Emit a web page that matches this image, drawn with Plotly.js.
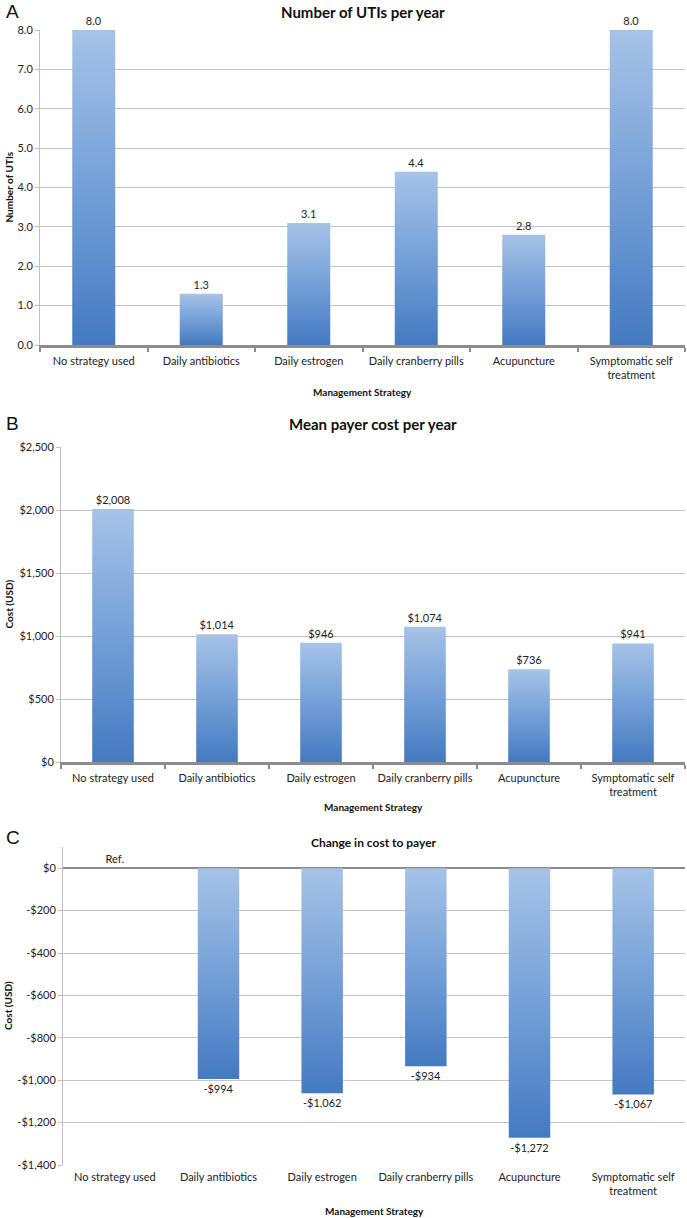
<!DOCTYPE html>
<html>
<head>
<meta charset="utf-8">
<script src="https://cdn.plot.ly/plotly-3.0.1.min.js"></script>
<style>
  html, body { margin: 0; padding: 0; background: #fff; }
  #chart { width: 687px; height: 1218px; }
</style>
</head>
<body>
<div id="chart"></div>
<script>
var strategies = ['No strategy used', 'Daily antibiotics', 'Daily estrogen',
  'Daily cranberry pills', 'Acupuncture', 'Symptomatic self<br>treatment'];

var utisPerYear = [8.0, 1.3, 3.1, 4.4, 2.8, 8.0];
var payerCost = [2008, 1014, 946, 1074, 736, 941];
var costChange = [0, -994, -1062, -934, -1272, -1067];
var refLabel = 'Ref.';

var costChangeTicks = [0, -200, -400, -600, -800, -1000, -1200, -1400];
var costChangeTickText = ['$0', '-$200', '-$400', '-$600', '-$800', '-$1,000', '-$1,200', '-$1,400'];

function usd(v) {
  var s = '$' + Math.abs(v).toLocaleString('en-US');
  return v < 0 ? '-' + s : s;
}

var H = 1218, W = 687;
function py(p) { return 1 - p / H; }
function px(p) { return p / W; }

var font = 'Lato, "Open Sans", sans-serif';
var barColor = 'rgb(110,155,212)';
var txtFont = {family: font, size: 11, color: '#222'};

var traceA = {
  x: strategies, y: utisPerYear, type: 'bar', xaxis: 'x', yaxis: 'y',
  text: utisPerYear.map(function (v) { return v.toFixed(1); }),
  textposition: 'outside', cliponaxis: false, textfont: txtFont,
  marker: {color: barColor}, hoverinfo: 'none'
};
var traceB = {
  x: strategies, y: payerCost, type: 'bar', xaxis: 'x2', yaxis: 'y2',
  text: payerCost.map(usd),
  textposition: 'outside', cliponaxis: false, textfont: txtFont,
  marker: {color: barColor}, hoverinfo: 'none'
};
var traceC = {
  x: strategies, y: costChange, type: 'bar', xaxis: 'x3', yaxis: 'y3',
  text: costChange.map(function (v) { return v === 0 ? refLabel : usd(v); }),
  textposition: 'outside', cliponaxis: false, textfont: txtFont,
  marker: {color: barColor}, hoverinfo: 'none'
};

var catAxis = {
  type: 'category', showgrid: false, zeroline: false, tickangle: 0,
  showline: true, linecolor: '#8c8c8c', linewidth: 2.5,
  ticks: 'outside', tickson: 'boundaries', ticklen: 4, tickwidth: 2, tickcolor: '#8c8c8c',
  ticklabelstandoff: 4,
  tickfont: {family: font, size: 11, color: '#222'}, fixedrange: true
};
var valAxis = {
  showline: true, linecolor: '#bfbfbf', linewidth: 1,
  ticks: 'outside', ticklen: 4, tickcolor: '#bfbfbf',
  gridcolor: '#c4c4c4', gridwidth: 1, zeroline: false,
  tickfont: {family: font, size: 11, color: '#222'}, fixedrange: true
};
function ext(base, more) {
  var o = {};
  for (var k in base) o[k] = base[k];
  for (var k2 in more) o[k2] = more[k2];
  return o;
}

var layout = {
  width: W, height: H,
  margin: {l: 0, r: 0, t: 0, b: 0},
  paper_bgcolor: '#fff', plot_bgcolor: 'rgba(0,0,0,0)',
  showlegend: false, bargap: 0.6,
  font: {family: font, color: '#222'},
  xaxis: ext(catAxis, {domain: [px(40), px(685)], anchor: 'y'}),
  yaxis: ext(valAxis, {domain: [py(345), py(30)], anchor: 'x', range: [0, 8], dtick: 1, tickformat: '.1f'}),
  xaxis2: ext(catAxis, {domain: [px(61), px(685)], anchor: 'y2'}),
  yaxis2: ext(valAxis, {domain: [py(762), py(447)], anchor: 'x2', range: [0, 2500], dtick: 500, tickprefix: '$', tickformat: ',d'}),
  xaxis3: ext(catAxis, {domain: [px(63), px(685)], anchor: 'y3', showline: false, ticks: ''}),
  yaxis3: ext(valAxis, {domain: [py(1165), py(847)], anchor: 'x3', range: [-1400, 100],
    tickmode: 'array', tickvals: costChangeTicks, ticktext: costChangeTickText,
    zeroline: true, zerolinecolor: '#8c8c8c', zerolinewidth: 2.5}),
  annotations: [
    {text: 'A', xref: 'paper', yref: 'paper', x: px(4), y: py(12), xanchor: 'left', yanchor: 'middle', showarrow: false, font: {family: 'Liberation Sans', size: 19, color: '#111'}},
    {text: 'B', xref: 'paper', yref: 'paper', x: px(4), y: py(423), xanchor: 'left', yanchor: 'middle', showarrow: false, font: {family: 'Liberation Sans', size: 19, color: '#111'}},
    {text: 'C', xref: 'paper', yref: 'paper', x: px(4), y: py(837), xanchor: 'left', yanchor: 'middle', showarrow: false, font: {family: 'Liberation Sans', size: 19, color: '#111'}},

    {text: '<b>Number of UTIs per year</b>', xref: 'x domain', yref: 'paper', x: 0.5, y: py(12), yanchor: 'middle', showarrow: false, font: {family: font, size: 15, color: '#111'}},
    {text: '<b>Mean payer cost per year</b>', xref: 'x2 domain', yref: 'paper', x: 0.5, y: py(424), yanchor: 'middle', showarrow: false, font: {family: font, size: 15, color: '#111'}},
    {text: '<b>Change in cost to payer</b>', xref: 'x3 domain', yref: 'paper', x: 0.5, y: py(842), yanchor: 'middle', showarrow: false, font: {family: font, size: 12, color: '#111'}},

    {text: '<b>Number of UTIs</b>', xref: 'paper', yref: 'y domain', x: px(8), y: 0.5, xanchor: 'center', yanchor: 'middle', textangle: -90, showarrow: false, font: {family: font, size: 10, color: '#111'}},
    {text: '<b>Cost (USD)</b>', xref: 'paper', yref: 'y2 domain', x: px(8), y: 0.5, xanchor: 'center', yanchor: 'middle', textangle: -90, showarrow: false, font: {family: font, size: 10, color: '#111'}},
    {text: '<b>Cost (USD)</b>', xref: 'paper', yref: 'y3 domain', x: px(8), y: 0.5, xanchor: 'center', yanchor: 'middle', textangle: -90, showarrow: false, font: {family: font, size: 10, color: '#111'}},

    {text: '<b>Management Strategy</b>', xref: 'x domain', yref: 'paper', x: 0.5, y: py(392), yanchor: 'middle', showarrow: false, font: {family: font, size: 10, color: '#111'}},
    {text: '<b>Management Strategy</b>', xref: 'x2 domain', yref: 'paper', x: 0.5, y: py(807), yanchor: 'middle', showarrow: false, font: {family: font, size: 10, color: '#111'}},
    {text: '<b>Management Strategy</b>', xref: 'x3 domain', yref: 'paper', x: 0.5, y: py(1211), yanchor: 'middle', showarrow: false, font: {family: font, size: 10, color: '#111'}}
  ]
};

// light-to-dark vertical gradient on every bar, like the original
function addGradient(gd) {
  var ns = 'http://www.w3.org/2000/svg';
  var svg = gd.querySelector('svg.main-svg');
  var defs = svg.querySelector('defs') || svg.insertBefore(document.createElementNS(ns, 'defs'), svg.firstChild);
  var grad = document.createElementNS(ns, 'linearGradient');
  grad.setAttribute('id', 'barGrad');
  grad.setAttribute('x1', '0'); grad.setAttribute('y1', '0');
  grad.setAttribute('x2', '0'); grad.setAttribute('y2', '1');
  [['0%', 'rgb(166,195,231)'], ['55%', 'rgb(112,156,213)'], ['100%', 'rgb(68,122,193)']].forEach(function (s) {
    var st = document.createElementNS(ns, 'stop');
    st.setAttribute('offset', s[0]);
    st.setAttribute('stop-color', s[1]);
    grad.appendChild(st);
  });
  defs.appendChild(grad);
  gd.querySelectorAll('.bars .point path').forEach(function (p) {
    p.style.fill = 'url(#barGrad)';
  });
}

Plotly.newPlot('chart', [traceA, traceB, traceC], layout, {staticPlot: true})
  .then(addGradient);
</script>
</body>
</html>
